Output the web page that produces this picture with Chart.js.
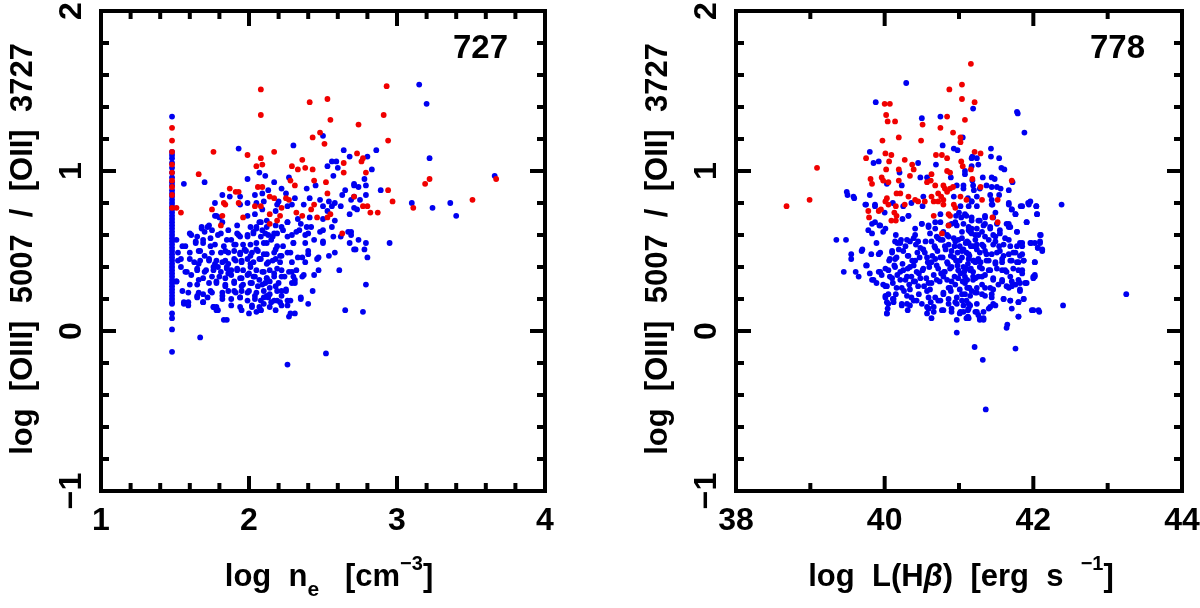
<!DOCTYPE html>
<html>
<head>
<meta charset="UTF-8">
<script src="https://cdn.jsdelivr.net/npm/chart.js@4.4.1/dist/chart.umd.min.js"></script>
<title>[OIII]/[OII] vs density and Hbeta luminosity</title>
<style>
  html, body { margin: 0; padding: 0; background: #fff; }
  #wrap { position: relative; width: 1200px; height: 608px; }
  #wrap canvas { position: absolute; top: 0; }
</style>
</head>
<body>
<div id="wrap">
  <canvas id="plot-ne" width="600" height="608" style="left:0"></canvas>
  <canvas id="plot-lhb" width="600" height="608" style="left:600px"></canvas>
</div>

<script>
// ---- data: [x, y] pairs ----

// left panel: log n_e vs log [OIII]/[OII]
const neRed = [
  [2.08,1.51],[2.08,1.35],[2.41,1.43],[2.53,1.45],[2.55,1.32],[2.74,1.29],[2.48,1.24],[2.43,1.21],[2.51,1.17],
  [1.76,1.12],[2.17,1.12],[1.99,1.10],[2.73,1.11],[2.08,1.08],[2.09,1.04],[2.05,1.03],[2.29,1.03],[2.36,1.07],
  [2.33,1.01],[2.38,1.02],[2.43,1.01],[2.64,1.05],[1.66,0.98],[2.28,0.94],[2.31,0.91],[2.44,0.94],[2.52,0.93],
  [2.64,0.99],[1.87,0.89],[1.91,0.87],[1.93,0.87],[2.06,0.90],[2.09,0.90],[2.14,0.84],[2.17,0.83],[2.25,0.83],
  [2.27,0.82],[2.53,0.86],[1.83,0.80],[1.84,0.79],[2.04,0.78],[2.08,0.78],[1.75,0.76],[1.93,0.80],[2.22,0.77],
  [2.42,0.76],[2.44,0.79],[2.55,0.73],[1.82,0.72],[1.96,0.71],[2.14,0.73],[2.21,0.72],[2.32,0.74],[2.36,0.72],
  [2.46,0.71],[2.53,0.71],[2.14,0.67],[2.19,0.69],[1.81,0.66],[2.63,0.61],
  [2.93,1.53],[2.91,1.35],[2.94,1.19],[2.77,1.08],[2.76,1.06],[2.79,0.99],[2.94,0.88],[2.97,0.81],[3.11,0.77],
  [3.19,0.92],[3.22,0.95],[3.67,0.95],[3.51,0.82],[2.71,0.84],[2.77,0.78],[2.80,0.78],[2.82,0.74],[2.87,0.74],
  [1.48,1.27],[1.48,1.19],[1.48,1.12],[1.48,1.04],[1.48,0.99],[1.48,0.94],[1.48,0.90],[1.48,0.85],[1.48,0.77],
  [1.51,0.77],[1.54,0.74]
];

// the column of galaxies at the lower density limit
const neBlueColumn = [
  1.34,1.12,1.10,1.08,1.05,1.02,0.99,0.96,0.93,0.91,0.88,0.86,0.84,0.82,0.80,0.78,0.76,0.74,0.72,0.70,
  0.68,0.66,0.64,0.62,0.60,0.58,0.56,0.54,0.52,0.50,0.48,0.46,0.44,0.42,0.40,0.38,0.36,0.34,0.32,0.30,
  0.28,0.26,0.24,0.22,0.20,0.18,0.17,0.11,0.08,0.01,-0.13
];
const neColumnX = 1.48;

const neBlue = [
  [1.56,0.92],[1.70,0.93],[1.99,0.95],[2.07,0.99],[2.11,0.97],[2.17,0.93],[2.27,0.96],[2.45,0.91],[2.57,0.97],[2.71,0.91],
  [1.87,0.84],[1.82,0.85],[1.94,0.84],[2.13,0.88],[2.09,0.86],[2.10,0.81],[2.20,0.81],[2.25,0.86],[2.31,0.83],[2.41,0.83],
  [2.48,0.82],[2.63,0.85],[2.71,0.84],[2.75,0.82],[1.77,0.80],[2.05,0.80],[1.99,0.80],[2.19,0.79],[1.94,0.79],[2.26,0.78],
  [2.29,0.79],[2.37,0.79],[2.50,0.78],[2.53,0.75],[2.56,0.78],[2.58,0.80],[2.62,0.78],[2.68,0.73],[2.73,0.76],[1.78,0.72],
  [1.99,0.72],[2.04,0.73],[2.18,0.75],[2.09,0.76],[2.33,0.70],[2.41,0.71],[2.50,0.70],[2.58,0.69],[1.82,0.68],[1.68,0.65],
  [1.73,0.66],[1.75,0.63],[1.86,0.63],[1.92,0.66],[2.01,0.65],[2.05,0.65],[2.07,0.68],[2.09,0.63],[2.12,0.65],[2.22,0.65],
  [2.26,0.68],[2.35,0.67],[2.39,0.65],[2.42,0.65],[2.56,0.65],[2.50,0.63],[2.67,0.62],[2.74,0.57],
  [1.61,0.60],[1.70,0.62],[1.81,0.61],[1.93,0.60],[1.99,0.59],[2.03,0.61],[2.08,0.59],[2.13,0.60],[2.17,0.61],[2.29,0.60],
  [2.32,0.62],[2.38,0.60],[2.44,0.57],[2.57,0.59],[2.62,0.59],[2.69,0.60],
  [1.55,0.53],[1.64,0.56],[1.69,0.55],[1.74,0.58],[1.77,0.54],[1.83,0.53],[1.88,0.57],[1.91,0.54],[1.96,0.54],[2.01,0.54],
  [2.05,0.55],[2.10,0.55],[2.15,0.57],[2.19,0.53],[2.23,0.53],[2.30,0.55],[2.38,0.55],[2.40,0.50],[2.50,0.55],[2.54,0.47],
  [2.58,0.49],[2.72,0.51],[2.68,0.55],
  [1.52,0.49],[1.60,0.49],[1.66,0.50],[1.70,0.47],[1.75,0.49],[1.81,0.49],[1.86,0.49],[1.90,0.50],[1.94,0.49],[1.98,0.50],
  [2.02,0.49],[2.06,0.50],[2.12,0.48],[2.17,0.49],[2.21,0.47],[2.26,0.49],[2.33,0.46],[2.47,0.46],
  [1.54,0.45],[1.63,0.43],[1.67,0.44],[1.73,0.44],[1.77,0.42],[1.82,0.43],[1.86,0.42],[1.91,0.44],[1.95,0.43],[1.99,0.45],
  [2.03,0.43],[2.08,0.45],[2.12,0.42],[2.16,0.44],[2.21,0.43],[2.29,0.43],[2.38,0.43],
  [1.57,0.37],[1.65,0.38],[1.71,0.38],[1.76,0.38],[1.79,0.40],[1.85,0.39],[1.88,0.38],[1.92,0.39],[1.96,0.38],[2.01,0.40],
  [2.05,0.38],[2.10,0.37],[2.14,0.38],[2.19,0.39],[2.22,0.38],[2.27,0.37],[2.32,0.38],[2.47,0.38],[2.61,0.38],
  [1.61,0.35],[1.69,0.33],[1.75,0.34],[1.80,0.34],[1.84,0.33],[1.88,0.35],[1.94,0.33],[1.99,0.35],[2.03,0.34],[2.07,0.32],
  [2.12,0.33],[2.17,0.34],[2.24,0.34],[2.30,0.34],[2.36,0.34],
  [1.51,0.31],[1.65,0.29],[1.78,0.30],[1.84,0.28],[1.90,0.30],[1.96,0.29],[2.01,0.30],[2.06,0.28],[2.11,0.30],[2.14,0.27],
  [2.20,0.30],[2.31,0.30],
  [1.59,0.24],[1.66,0.24],[1.74,0.25],[1.82,0.24],[1.86,0.25],[1.91,0.24],[1.95,0.25],[2.00,0.25],[2.05,0.24],[2.10,0.25],
  [2.12,0.22],[2.19,0.25],[2.22,0.25],[2.25,0.25],[2.43,0.25],
  [1.65,0.21],[1.72,0.21],[1.82,0.20],[1.88,0.20],[1.94,0.21],[1.99,0.19],[2.04,0.20],[2.08,0.19],[2.13,0.21],[2.17,0.19],
  [2.21,0.18],[2.26,0.19],[2.35,0.20],
  [1.56,0.18],[1.59,0.18],[1.69,0.18],[1.94,0.15],[2.02,0.16],[2.07,0.15],[2.10,0.17],[2.15,0.18],[2.26,0.16],[2.31,0.11],
  [2.27,0.09],[2.00,0.11],[1.76,0.15],[1.78,0.15],[1.79,0.13],[1.83,0.07],[1.85,0.07],[2.65,0.13],[1.67,-0.04],[2.52,-0.14],
  [2.26,-0.21],[2.18,0.13],[2.08,0.13],[2.05,0.12],
  [2.39,0.89],[2.22,0.89],[2.04,0.85],[2.65,0.88],[2.54,0.81],
  [2.50,1.22],[2.30,1.16],[1.93,1.14],[2.64,1.13],[2.68,1.09],[2.53,1.03],[2.56,1.06],[2.59,1.06],[2.60,1.02],
  [3.15,1.54],[3.20,1.42],[3.22,1.08],[2.86,1.13],[2.80,1.09],[2.83,1.01],[2.78,0.95],[2.71,0.92],[2.74,0.90],[2.79,0.91],
  [2.79,0.85],[2.89,0.88],[3.10,0.80],[3.66,0.97],[3.36,0.80],[3.24,0.77],[3.40,0.72],[2.69,0.82],[2.71,0.77],[2.69,0.62],
  [2.71,0.51],[2.79,0.55],[2.78,0.51],[2.80,0.46],[2.95,0.55],[2.79,0.29],[2.77,0.12]
];

// closer reading of the crowded core of the left cloud
const neBlueCore = [
  [1.77,0.72],[1.80,0.71],[1.72,0.65],[1.68,0.64],[1.60,0.61],[1.65,0.59],[1.69,0.57],[1.79,0.60],[1.85,0.57],[1.92,0.61],
  [1.94,0.59],[1.99,0.60],[2.03,0.62],[2.08,0.68],[2.12,0.69],[2.05,0.64],[2.11,0.61],[2.16,0.59],[2.19,0.61],[2.23,0.63],
  [2.34,0.63],[2.40,0.61],[2.48,0.62],[2.50,0.56],[2.30,0.55],[2.26,0.59],[2.18,0.66],[2.26,0.68],
  [1.51,0.57],[1.57,0.53],[1.64,0.55],[1.67,0.50],[1.74,0.53],[1.84,0.50],[1.90,0.54],[1.94,0.48],[1.97,0.51],[2.01,0.47],
  [2.05,0.51],[2.10,0.48],[2.12,0.55],[2.18,0.51],[2.22,0.47],[2.28,0.49],[2.36,0.46],[2.40,0.48],[2.46,0.45],[1.52,0.44],
  [1.60,0.45],[1.66,0.42],[1.73,0.45],[1.78,0.44],[1.84,0.44],[1.90,0.45],[1.95,0.44],[2.01,0.42],[2.07,0.45],[2.13,0.43],
  [2.18,0.45],
  [1.54,0.40],[1.58,0.37],[1.65,0.39],[1.70,0.37],[1.76,0.40],[1.81,0.37],[1.85,0.40],[1.86,0.36],[1.92,0.38],[1.95,0.33],
  [2.00,0.36],[2.04,0.34],[2.09,0.37],[2.12,0.33],[2.17,0.36],[2.22,0.34],[2.29,0.37],[2.31,0.32],[2.37,0.35],[2.44,0.35],
  [1.51,0.31],[1.60,0.29],[1.66,0.32],[1.73,0.30],[1.78,0.31],[1.84,0.29],[1.90,0.31],[1.95,0.28],[2.02,0.30],[2.09,0.29],
  [2.14,0.31],[2.18,0.28],[2.25,0.26],[2.29,0.30],
  [1.55,0.25],[1.65,0.22],[1.69,0.23],[1.75,0.24],[1.82,0.22],[1.90,0.25],[1.94,0.21],[1.99,0.24],[2.04,0.22],[2.10,0.21],
  [2.14,0.23],[2.19,0.19],[2.22,0.22],[2.28,0.19],[2.35,0.21],[2.40,0.17],[1.56,0.17],[1.59,0.16],[1.69,0.18],[1.76,0.15],
  [1.78,0.13],[1.88,0.16],[1.95,0.13],[2.02,0.15],[2.08,0.13],[2.14,0.15],[2.22,0.16],[2.28,0.11]
];

// right panel: log L(Hbeta) vs log [OIII]/[OII]
const lhbRed = [
  [38.68,0.78],[38.99,0.82],[39.09,1.02],[41.16,1.67],[41.04,1.54],[40.87,1.51],[41.04,1.45],[40.00,1.42],[40.07,1.42],
  [40.02,1.35],[40.04,1.31],[40.14,1.31],[40.84,1.34],[40.51,1.29],[40.75,1.27],[41.08,1.32],[40.92,1.24],[40.19,1.21],
  [39.97,1.19],[40.49,1.19],[41.02,1.21],[41.02,1.18],[39.75,1.08],[40.01,1.11],[40.09,1.10],[40.06,1.06],[40.27,1.07],
  [40.37,1.04],[40.69,1.10],[40.77,1.10],[40.84,1.08],[41.03,1.06],[41.05,1.03],[40.02,1.01],[40.19,1.01],[40.39,1.01],
  [40.63,0.98],[40.84,1.00],[40.88,0.99],[41.16,1.01],[39.81,0.95],[39.83,0.92],[39.96,0.96],[39.98,0.94],[40.05,0.93],
  [40.19,0.94],[40.34,0.97],[40.57,0.93],[40.62,0.94],[40.68,0.91],[40.79,0.91],[40.81,0.89],[40.88,0.89],[40.92,0.90],
  [40.03,0.83],[40.16,0.86],[40.21,0.86],[40.32,0.84],[40.41,0.82],[40.63,0.84],[40.72,0.86],[40.76,0.84],[40.79,0.82],
  [40.72,0.81],[40.84,0.87],[41.02,0.84],[40.01,0.81],[40.05,0.79],[40.15,0.78],[40.27,0.79],[40.45,0.81],[40.54,0.81],
  [40.66,0.81],[40.79,0.79],[40.93,0.79],[40.95,0.77],[39.78,0.75],[39.79,0.71],[39.92,0.75],[39.95,0.76],[40.13,0.74],
  [40.16,0.72],[40.66,0.72],[40.86,0.73],[40.88,0.72],[40.09,0.69],[40.15,0.69],[40.86,0.66],[40.77,0.61],
  [41.21,1.43],[41.21,1.12],[41.29,1.11],[41.18,0.95],[41.71,0.94],[41.29,0.90],[41.31,0.82],[41.52,0.82],[41.10,0.82],
  [41.45,0.71],[41.52,0.68]
];

const lhbBlue = [
  [42.38,0.79],[43.25,0.23],[42.40,0.16],[41.36,-0.49],[41.32,-0.18],[41.21,-0.10],[40.97,-0.01],[41.76,-0.11],[41.65,0.04],
  [39.35,0.57],[39.48,0.57],[39.45,0.37],[39.55,0.48],[39.49,0.87],[39.58,0.84],[41.78,1.37],[41.88,1.24],[40.29,1.55],
  [39.88,1.43],
  [40.75,1.34],[40.50,1.33],[41.19,1.39],[41.05,1.21],[40.78,1.16],[40.93,1.14],[40.98,1.13],[39.80,1.12],[39.85,1.05],
  [39.92,1.06],[40.45,1.05],[40.69,1.04],[41.17,1.08],[40.20,0.99],[40.89,0.96],[41.08,1.00],[40.03,0.92],[40.23,0.91],
  [40.48,0.96],[40.57,0.96],[40.97,0.91],[41.06,0.89],[41.18,0.94],[41.19,0.91],
  [39.50,0.85],[39.59,0.83],[39.80,0.85],[40.52,0.84],[40.93,0.84],[41.12,0.83],[40.11,0.80],[40.36,0.80],[40.51,0.78],
  [41.02,0.78],[41.17,0.81],[39.75,0.79],[39.87,0.78],[40.00,0.74],[40.32,0.72],[40.75,0.73],[40.96,0.72],[41.03,0.71],
  [41.08,0.73],[41.17,0.71],[40.24,0.70],[39.87,0.68],[39.94,0.66],[40.01,0.64],[39.78,0.63],[39.83,0.61],[40.50,0.67],
  [40.59,0.66],[40.68,0.64],[40.75,0.68],[40.90,0.67],[40.97,0.66],[41.04,0.62],[41.13,0.63],[40.15,0.60],[40.41,0.64],
  [40.41,0.60],[40.72,0.58],[40.84,0.60],[40.93,0.58],[41.17,0.61],
  [39.89,0.55],[39.55,0.45],[39.70,0.51],[39.82,0.48],[39.94,0.49],[39.75,0.41],[39.61,0.37],[39.65,0.34],[39.80,0.36],
  [39.83,0.32],[39.89,0.30],[39.94,0.37],[40.01,0.28],[40.05,0.23],[40.03,0.18],[40.03,0.11],[40.12,0.18],[40.23,0.16],
  [40.30,0.17],[40.01,0.21],[40.04,0.14],[40.11,0.20],[40.57,0.15],
  [40.17,0.55],[40.22,0.57],[40.28,0.53],[40.34,0.56],[40.42,0.54],[40.55,0.56],[40.67,0.53],[40.78,0.57],[40.86,0.54],
  [40.94,0.53],[40.99,0.57],[41.09,0.55],[41.16,0.53],
  [40.10,0.49],[40.19,0.51],[40.31,0.47],[40.44,0.49],[40.52,0.51],[40.64,0.47],[40.71,0.50],[40.82,0.51],[40.89,0.47],
  [40.98,0.49],[41.06,0.51],[41.14,0.47],
  [40.06,0.44],[40.14,0.45],[40.24,0.42],[40.37,0.44],[40.47,0.46],[40.58,0.43],[40.68,0.45],[40.78,0.46],[40.85,0.42],
  [40.96,0.44],[41.04,0.46],[41.12,0.42],[41.20,0.44],
  [40.01,0.39],[40.13,0.41],[40.21,0.37],[40.31,0.39],[40.39,0.41],[40.51,0.38],[40.60,0.40],[40.70,0.41],[40.80,0.37],
  [40.88,0.39],[40.98,0.41],[41.07,0.37],[41.16,0.39],
  [40.07,0.34],[40.17,0.35],[40.28,0.32],[40.36,0.34],[40.46,0.36],[40.56,0.33],[40.66,0.35],[40.76,0.36],[40.84,0.32],
  [40.94,0.34],[41.02,0.36],[41.11,0.32],[41.19,0.34],
  [39.98,0.29],[40.11,0.30],[40.23,0.27],[40.33,0.29],[40.41,0.31],[40.53,0.28],[40.63,0.30],[40.74,0.31],[40.86,0.27],
  [40.95,0.29],[41.05,0.31],[41.14,0.27],
  [40.15,0.23],[40.26,0.25],[40.36,0.21],[40.46,0.23],[40.57,0.25],[40.68,0.21],[40.79,0.24],[40.89,0.25],[40.97,0.21],
  [41.08,0.23],[41.17,0.25],
  [40.39,0.19],[40.50,0.17],[40.62,0.18],[40.75,0.19],[40.86,0.17],[40.95,0.18],[41.04,0.19],[41.13,0.17],
  [40.31,0.13],[40.59,0.14],[40.66,0.12],[40.79,0.13],[40.90,0.14],[41.02,0.12],[41.12,0.13],[40.63,0.08],[40.97,0.07],
  [41.12,0.09],
  [41.79,1.36],[41.43,1.14],[41.43,1.09],[41.18,1.09],[41.24,1.08],[41.54,1.08],[41.17,1.03],[41.26,1.04],[41.57,1.02],
  [41.61,1.01],[41.08,0.98],[41.32,0.96],[41.44,0.96],[41.48,0.95],[41.72,0.93],[41.06,0.91],[41.37,0.91],[41.44,0.90],
  [41.51,0.90],[41.56,0.89],[41.67,0.88],[41.20,0.88],[41.28,0.89],[41.24,0.84],[41.42,0.85],[41.44,0.82],[41.45,0.79],
  [41.54,0.85],[41.67,0.80],[41.83,0.78],[41.93,0.80],[41.96,0.81],[42.04,0.78],[41.13,0.78],[41.17,0.81],[41.71,0.76],
  [41.76,0.73],[42.05,0.73],[41.49,0.74],[41.35,0.72],[41.26,0.69],[41.35,0.67],[41.67,0.67],[41.69,0.65],[41.91,0.68],
  [41.17,0.69],[41.13,0.65],[41.42,0.64],[41.55,0.63],[41.78,0.62],[42.10,0.60],[41.22,0.60],[41.35,0.59],[41.49,0.59],
  [41.62,0.58],[41.82,0.55],[41.85,0.53],[41.97,0.55],[42.09,0.55],[42.06,0.52],[42.12,0.51],[41.11,0.56],[41.24,0.54],
  [41.33,0.53],[41.46,0.54],[41.54,0.53],[41.69,0.53],[41.04,0.50],[41.13,0.48],[41.28,0.49],[41.37,0.48],[41.51,0.49],
  [41.60,0.47],[41.73,0.49],[41.82,0.47],[42.02,0.43],[41.19,0.44],[41.29,0.43],[41.40,0.44],[41.49,0.42],[41.58,0.43],
  [41.71,0.44],[41.80,0.43],[41.87,0.44],[41.06,0.40],[41.15,0.38],[41.31,0.39],[41.42,0.38],[41.58,0.38],[41.64,0.37],
  [41.80,0.38],[41.85,0.36],[42.02,0.34],[42.00,0.33],[41.08,0.34],[41.22,0.33],[41.31,0.34],[41.46,0.32],[41.58,0.31],
  [41.71,0.31],[41.82,0.30],[41.91,0.30],[41.11,0.27],[41.24,0.27],[41.35,0.27],[41.46,0.26],[41.67,0.27],[41.71,0.28],
  [41.82,0.26],[41.04,0.23],[41.15,0.22],[41.31,0.23],[41.44,0.21],[41.60,0.20],[41.69,0.19],[41.80,0.18],[41.87,0.20],
  [41.06,0.16],[41.15,0.16],[41.24,0.17],[41.42,0.15],[41.06,0.12],[41.22,0.12],[41.33,0.12],[41.49,0.16],[41.98,0.13],
  [42.08,0.12],[41.80,0.09],[41.13,0.08],[41.28,0.07],[41.33,0.07]
];

// closer reading of the crowded core of the right cloud
const lhbBlueCore = [
  [39.74,0.79],[39.87,0.79],[40.25,0.78],[40.32,0.72],[41.00,0.74],[41.10,0.72],[41.24,0.78],
  [39.83,0.67],[39.93,0.66],[39.98,0.62],[40.50,0.67],[40.59,0.65],[40.68,0.68],[40.86,0.66],[40.95,0.68],[41.06,0.67],
  [41.17,0.64],[40.61,0.61],[40.70,0.59],[40.79,0.62],[41.15,0.62],[41.26,0.60],
  [40.14,0.56],[40.21,0.55],[40.30,0.57],[40.39,0.58],[40.45,0.56],[40.63,0.56],[40.75,0.57],[40.86,0.59],[40.95,0.56],
  [41.04,0.58],[41.13,0.55],[41.22,0.57],[40.10,0.50],[40.25,0.50],[40.48,0.52],[40.54,0.49],[40.68,0.52],[40.81,0.53],
  [40.90,0.50],[41.01,0.53],[41.10,0.49],[41.19,0.53],[39.69,0.50],[39.92,0.48],
  [40.07,0.45],[40.16,0.46],[40.32,0.47],[40.41,0.44],[40.57,0.46],[40.63,0.43],[40.75,0.46],[40.84,0.43],[40.93,0.46],
  [41.01,0.44],[41.13,0.45],[41.22,0.43],[39.76,0.41],[40.05,0.38],[40.14,0.40],[40.25,0.38],[40.34,0.40],[40.43,0.37],
  [40.52,0.39],[40.72,0.39],[40.81,0.37],[40.90,0.40],[40.99,0.38],[41.10,0.39],[41.19,0.37],[39.92,0.37],
  [39.85,0.32],[39.96,0.35],[40.10,0.33],[40.21,0.32],[40.30,0.34],[40.39,0.31],[40.48,0.33],[40.59,0.30],[40.70,0.32],
  [40.79,0.34],[40.90,0.31],[40.99,0.33],[41.08,0.30],[41.19,0.32],[40.03,0.28],[40.16,0.27],[40.34,0.26],[40.45,0.28],
  [40.61,0.26],[40.79,0.23],[40.88,0.27],[41.01,0.26],[41.13,0.27],[41.22,0.24],
  [40.01,0.22],[40.12,0.20],[40.30,0.22],[40.43,0.19],[40.59,0.21],[40.72,0.19],[40.86,0.20],[40.97,0.17],[41.10,0.19],
  [40.05,0.17],[40.23,0.17],[40.34,0.16],[40.59,0.14],[40.66,0.15],[40.77,0.13],[40.90,0.12],[41.01,0.11],[41.13,0.14],
  [40.03,0.11],[40.57,0.11],[41.10,0.08],[41.26,0.10]
];

// closer reading of the eastern (bright) side of the right cloud
const lhbBlueEast = [
  [41.44,0.79],[41.67,0.79],[41.71,0.76],[41.85,0.78],[41.94,0.79],[42.04,0.78],[42.05,0.73],[41.76,0.73],[41.46,0.71],
  [41.35,0.71],[41.28,0.69],[41.33,0.66],[41.42,0.65],[41.51,0.67],[41.64,0.67],[41.67,0.65],[41.91,0.68],[41.78,0.62],
  [41.55,0.61],[41.46,0.60],[41.31,0.62],[41.24,0.64],[42.09,0.60],[41.96,0.55],[42.02,0.55],[42.09,0.56],[42.06,0.52],
  [42.12,0.50],[41.85,0.55],[41.78,0.53],[41.67,0.57],[41.60,0.54],[41.49,0.56],[41.40,0.57],[41.31,0.54],[41.24,0.51],
  [41.35,0.50],[41.44,0.48],[41.55,0.50],[41.67,0.48],[41.76,0.49],[41.85,0.48],[41.26,0.45],[41.37,0.44],[41.49,0.43],
  [41.58,0.45],[41.69,0.44],[41.78,0.43],[41.87,0.44],[42.02,0.43],[41.28,0.40],[41.40,0.38],[41.51,0.39],[41.62,0.38],
  [41.73,0.39],[41.85,0.38],[42.00,0.34],[42.02,0.35],[41.26,0.34],[41.35,0.35],[41.46,0.33],[41.58,0.32],[41.69,0.34],
  [41.80,0.32],[41.89,0.30],[41.31,0.29],[41.42,0.27],[41.53,0.29],[41.64,0.28],[41.76,0.29],[41.82,0.25],[41.24,0.24],
  [41.35,0.22],[41.44,0.23],[41.60,0.20],[41.69,0.19],[41.80,0.18],[41.87,0.20],[41.46,0.17],[41.40,0.14],[41.71,0.14],
  [42.00,0.13],[42.07,0.13],[41.28,0.08],[41.33,0.08],[41.80,0.09],[41.24,0.12],[41.64,0.02]
];

// axis ticks
const neMajorX = [1, 2, 3, 4];
const neMinorX = [1.2, 1.4, 1.6, 1.8, 2.2, 2.4, 2.6, 2.8, 3.2, 3.4, 3.6, 3.8];
const lhbMajorX = [38, 40, 42, 44];
const lhbMinorX = [39, 41, 43];
const ratioMajorY = [-1, 0, 1, 2];
const ratioMinorY = [-0.8, -0.6, -0.4, -0.2, 0.2, 0.4, 0.6, 0.8, 1.2, 1.4, 1.6, 1.8];
const ratioLabelsY = ['\u22121', '0', '1', '2'];

const FACE = '"Liberation Sans", Arial, sans-serif';
const font = (size, style) => (style || 'bold') + ' ' + size + 'px ' + FACE;

// draws text made of several runs (sub/superscripts), centred on cx
function drawRuns(ctx, runs, cx, y) {
    let w = 0;
    runs.forEach(r => { ctx.font = r.f; w += ctx.measureText(r.t).width; });
    let x = cx - w / 2;
    ctx.textAlign = 'left';
    runs.forEach(r => {
        ctx.font = r.f;
        ctx.fillText(r.t, x, y + (r.dy || 0));
        x += ctx.measureText(r.t).width;
    });
}

// frame, inward ticks, rotated y labels, titles
const framePlugin = {
    id: 'frame',
    afterDraw(chart, args, o) {
        const ctx = chart.ctx, a = chart.chartArea;
        const xs = chart.scales.x, ys = chart.scales.y;
        ctx.save();
        ctx.strokeStyle = '#000';
        ctx.fillStyle = '#000';
        ctx.lineWidth = 4;
        ctx.lineCap = 'butt';

        const seg = (x1, y1, x2, y2) => { ctx.beginPath(); ctx.moveTo(x1, y1); ctx.lineTo(x2, y2); ctx.stroke(); };

        o.majorX.forEach(v => { const p = xs.getPixelForValue(v); seg(p, a.bottom, p, a.bottom - 15); seg(p, a.top, p, a.top + 15); });
        o.minorX.forEach(v => { const p = xs.getPixelForValue(v); seg(p, a.bottom, p, a.bottom - 8); seg(p, a.top, p, a.top + 8); });
        ratioMajorY.forEach(v => { const p = ys.getPixelForValue(v); seg(a.left, p, a.left + 15, p); seg(a.right, p, a.right - 15, p); });
        ratioMinorY.forEach(v => { const p = ys.getPixelForValue(v); seg(a.left, p, a.left + 8, p); seg(a.right, p, a.right - 8, p); });

        ctx.lineJoin = 'miter';
        ctx.strokeRect(a.left, a.top, a.right - a.left, a.bottom - a.top);

        // x tick labels
        ctx.font = font(32);
        ctx.textAlign = 'center';
        ctx.textBaseline = 'alphabetic';
        o.majorX.forEach(v => ctx.fillText(String(v), xs.getPixelForValue(v), a.bottom + 39));

        // y tick labels, rotated
        ratioMajorY.forEach((v, i) => {
            ctx.save();
            ctx.translate(a.left - 20, ys.getPixelForValue(v));
            ctx.rotate(-Math.PI / 2);
            ctx.textAlign = 'center';
            ctx.fillText(ratioLabelsY[i], 0, 0);
            ctx.restore();
        });

        // y title
        ctx.save();
        ctx.translate(a.left - 69, (a.top + a.bottom) / 2 - 2);
        ctx.rotate(-Math.PI / 2);
        ctx.font = font(31);
        ctx.textAlign = 'center';
        ctx.fillText('log  [OIII]  5007  /  [OII]  3727', 0, 0);
        ctx.restore();

        // x title
        drawRuns(ctx, o.xTitle, (a.left + a.right) / 2 + o.titleShift, a.bottom + 95);

        // sample size
        ctx.font = font(33);
        ctx.textAlign = 'right';
        ctx.fillText(o.tag, a.right - 37, a.top + 47);
        ctx.restore();
    }
};

function makeChart(id, red, blue, xmin, xmax, pad, frame) {
    return new Chart(document.getElementById(id).getContext('2d'), {
        type: 'scatter',
        data: {
            datasets: [
                { label: 'red', data: red.map(p => ({ x: p[0], y: p[1] })), backgroundColor: '#f00000' },
                { label: 'blue', data: blue.map(p => ({ x: p[0], y: p[1] })), backgroundColor: '#0000f0' }
            ]
        },
        options: {
            responsive: false,
            devicePixelRatio: 1,
            animation: false,
            layout: { padding: pad },
            elements: { point: { radius: 2.9, borderWidth: 0, hoverRadius: 2.9 } },
            scales: {
                x: { type: 'linear', min: xmin, max: xmax, display: false },
                y: { type: 'linear', min: -1, max: 2, display: false }
            },
            plugins: { legend: { display: false }, tooltip: { enabled: false }, frame: frame }
        },
        plugins: [framePlugin]
    });
}

const neBlueAll = neBlue.concat(neBlueCore, neBlueColumn.map(y => [neColumnX, y]));
const lhbBlueAll = lhbBlue.concat(lhbBlueCore, lhbBlueEast);

makeChart('plot-ne', neRed, neBlueAll, 1, 4,
    { left: 101, right: 55, top: 11, bottom: 117 },
    {
        majorX: neMajorX, minorX: neMinorX, tag: '727', titleShift: 6,
        xTitle: [
            { t: 'log  n', f: font(31) },
            { t: 'e', f: font(21), dy: 10 },
            { t: '   [cm', f: font(31) },
            { t: '\u22123', f: font(20), dy: -16 },
            { t: ']', f: font(31) }
        ]
    });

makeChart('plot-lhb', lhbRed, lhbBlueAll, 38, 44,
    { left: 136, right: 18, top: 11, bottom: 117 },
    {
        majorX: lhbMajorX, minorX: lhbMinorX, tag: '778', titleShift: 2,
        xTitle: [
            { t: 'log  L(H', f: font(31) },
            { t: '\u03b2', f: font(31, 'italic bold') },
            { t: ')  [erg  s  ', f: font(31) },
            { t: '\u22121', f: font(20), dy: -16 },
            { t: ']', f: font(31) }
        ]
    });
</script>
</body>
</html>
